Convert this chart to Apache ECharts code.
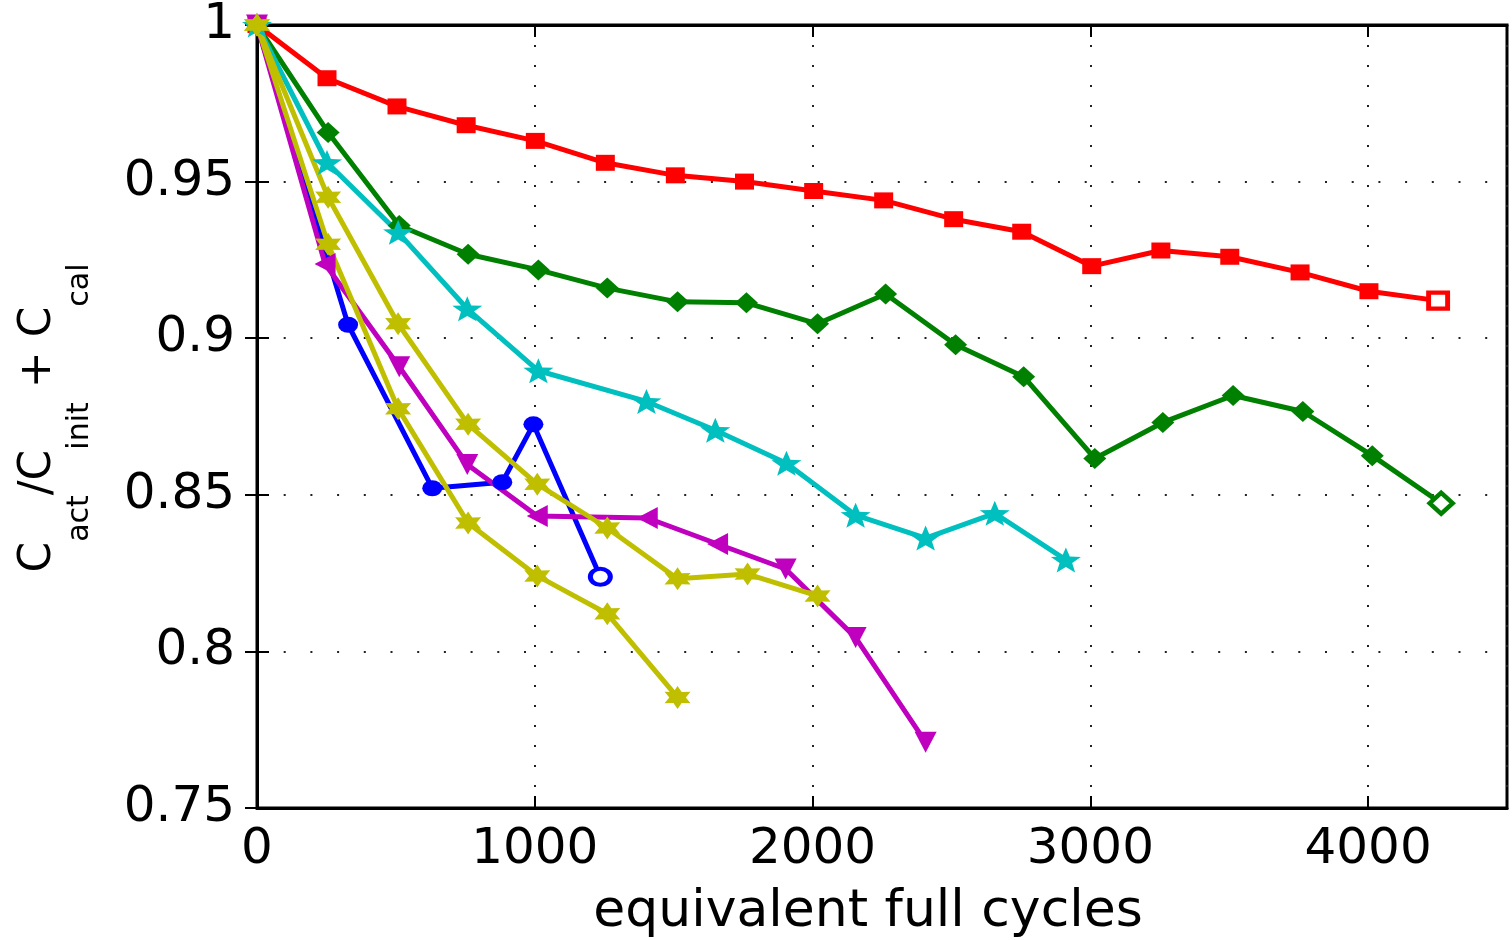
<!DOCTYPE html>
<html>
<head>
<meta charset="utf-8" />
<title>capacity fade</title>
<script src="https://cdn.jsdelivr.net/npm/echarts@6/dist/echarts.min.js"></script>
<style>
  html, body { margin: 0; padding: 0; background: #fff; }
  #main { width: 1512px; height: 940px; }
</style>
</head>
<body>
<div id="main"></div>
<script type="text/javascript">
// tick labels
var xTicks = [0, 1000, 2000, 3000, 4000];
var yTicks = [0.75, 0.8, 0.85, 0.9, 0.95, 1];

// red, squares
var redX = [0, 252, 504, 753, 1002, 1254, 1506, 1755, 2004, 2256, 2508, 2753, 3005, 3254, 3502, 3755, 4003, 4252];
var redY = [1, 0.983, 0.974, 0.968, 0.963, 0.956, 0.952, 0.950, 0.947, 0.944, 0.938, 0.934, 0.923, 0.928, 0.926, 0.921, 0.915, 0.912];
// green, diamonds
var greenX = [0, 256, 512, 760, 1013, 1261, 1514, 1762, 2018, 2263, 2515, 2760, 3016, 3261, 3514, 3765, 4015, 4263];
var greenY = [1, 0.9657, 0.9360, 0.9268, 0.9218, 0.9160, 0.9116, 0.9113, 0.9046, 0.9141, 0.8979, 0.8877, 0.8616, 0.8731, 0.8817, 0.8766, 0.8625, 0.8473];
// cyan, pentagrams
var cyanX = [0, 252, 508, 757, 1013, 1402, 1650, 1906, 2155, 2407, 2656, 2912];
var cyanY = [1, 0.9561, 0.9338, 0.9094, 0.8896, 0.8798, 0.8706, 0.8601, 0.8435, 0.8362, 0.8441, 0.8292];
// blue, circles
var blueX = [0, 328, 631, 883, 995, 1236];
var blueY = [1, 0.9043, 0.8521, 0.8540, 0.8725, 0.8238];
// magenta, triangles
var magX = [0, 245, 512, 757, 1009, 1405, 1658, 1903, 2155, 2407];
var magY = [1, 0.9237, 0.8909, 0.8597, 0.8432, 0.8426, 0.8343, 0.8263, 0.8044, 0.7710];
// yellow, hexagrams (two runs)
var yelAX = [0, 256, 508, 760, 1009, 1261, 1514, 1766, 2018];
var yelAY = [1, 0.945, 0.9046, 0.8725, 0.8534, 0.8394, 0.8232, 0.8247, 0.8177];
var yelBX = [0, 256, 508, 760, 1009, 1261, 1514];
var yelBY = [1, 0.930, 0.8775, 0.8410, 0.8241, 0.8120, 0.7853];

var FONT = '"DejaVu Sans", sans-serif';

function starPath(n, inner) {
    var d = '';
    for (var i = 0; i < 2 * n; i++) {
        var r = i % 2 ? inner : 1;
        var a = -Math.PI / 2 + i * Math.PI / n;
        d += (i ? 'L' : 'M') + (50 + 50 * r * Math.cos(a)).toFixed(2) + ' ' + (50 + 50 * r * Math.sin(a)).toFixed(2) + ' ';
    }
    return 'path://' + d + 'Z';
}
var PENTA = starPath(5, 0.42);
var HEXA = starPath(6, 0.55);

// triangle orientation per magenta point (left / down)
var magRot = [180, 90, 180, 180, 90, 90, 90, 180, 180, 180];

function pairs(xs, ys) {
    return xs.map(function (x, i) { return [x, ys[i]]; });
}

function mkSeries(name, xs, ys, color, symbol, size, hollowLast) {
    var data = pairs(xs, ys).map(function (p, i) {
        if (hollowLast && i === xs.length - 1) {
            return { value: p, itemStyle: { color: '#fff', borderColor: color, borderWidth: 4.5 } };
        }
        return p;
    });
    return {
        name: name,
        type: 'line',
        data: data,
        symbol: symbol,
        symbolSize: size,
        showAllSymbol: true,
        clip: false,
        lineStyle: { color: color, width: 5 },
        itemStyle: { color: color },
        emphasis: { disabled: true },
        animation: false
    };
}

var myChart = echarts.init(document.getElementById('main'));

var series = [
    mkSeries('blue', blueX, blueY, '#0000ff', 'circle', [20, 16], true),
    mkSeries('green', greenX, greenY, '#008000', 'diamond', [23, 21], true),
    mkSeries('red', redX, redY, '#ff0000', 'rect', [19, 16], true),
    mkSeries('cyan', cyanX, cyanY, '#00bfbf', PENTA, [30, 25], false),
    mkSeries('magenta', magX, magY, '#bf00bf', 'triangle', [22, 21], false),
    mkSeries('yellowA', yelAX, yelAY, '#bfbf00', HEXA, [26, 23], false),
    mkSeries('yellowB', yelBX, yelBY, '#bfbf00', HEXA, [26, 23], false)
];
series[4].symbolRotate = function (v, p) { return magRot[p.dataIndex]; };

option = {
    backgroundColor: '#fff',
    animation: false,
    grid: {
        left: 257,
        top: 22,
        right: 5,
        bottom: 132,
        show: true,
        borderColor: '#000',
        borderWidth: 3,
        backgroundColor: 'transparent'
    },
    xAxis: [{
        type: 'value',
        min: 0,
        max: 4500,
        interval: 1000,
        axisLine: { show: true, lineStyle: { color: '#000', width: 3 } },
        axisTick: { show: true, inside: true, length: 12, lineStyle: { color: '#000', width: 2 } },
        axisLabel: {
            color: '#000', fontSize: 50, fontFamily: FONT, margin: 17,
            formatter: function (v) { return xTicks.indexOf(v) >= 0 ? String(v) : ''; }
        },
        splitLine: {
            show: true,
            lineStyle: { color: '#222', width: 2, type: [2, 18] }
        }
    }, {
        type: 'value',
        position: 'top',
        min: 0,
        max: 4500,
        interval: 1000,
        axisLine: { show: true, lineStyle: { color: '#000', width: 3 } },
        axisTick: { show: true, inside: true, length: 12, lineStyle: { color: '#000', width: 2 } },
        axisLabel: { show: false },
        splitLine: { show: false }
    }],
    yAxis: [{
        type: 'value',
        min: 0.75,
        max: 1,
        interval: 0.05,
        axisLine: { show: true, lineStyle: { color: '#000', width: 3 } },
        axisTick: { show: true, inside: true, length: 12, lineStyle: { color: '#000', width: 2 } },
        axisLabel: {
            color: '#000', fontSize: 50, fontFamily: FONT, margin: 22,
            formatter: function (v) {
                var r = Math.round(v * 100) / 100;
                return yTicks.indexOf(r) >= 0 ? String(r) : '';
            }
        },
        splitLine: {
            show: true,
            lineStyle: { color: '#222', width: 2, type: [2, 24.7] }
        }
    }, {
        type: 'value',
        position: 'right',
        min: 0.75,
        max: 1,
        interval: 0.05,
        axisLine: { show: true, lineStyle: { color: '#000', width: 3 } },
        axisTick: { show: true, inside: true, length: 12, lineStyle: { color: '#000', width: 2 } },
        axisLabel: { show: false },
        splitLine: { show: false }
    }],
    graphic: [{
        type: 'text',
        x: 868,
        y: 912,
        style: {
            text: 'equivalent full cycles',
            align: 'center',
            verticalAlign: 'middle',
            fill: '#000',
            font: '52px ' + FONT
        }
    }, {
        type: 'text',
        x: 17,
        y: 418,
        rotation: Math.PI / 2,
        style: {
            text: '{m|C}{s|act}{m|/C}{s|init}{m| + C}{s|cal}',
            align: 'center',
            verticalAlign: 'top',
            fill: '#000',
            rich: {
                m: { fontSize: 44, fontFamily: FONT, lineHeight: 44, verticalAlign: 'top', fill: '#000' },
                s: { fontSize: 30, fontFamily: FONT, lineHeight: 78, verticalAlign: 'bottom', fill: '#000' }
            }
        }
    }],
    series: series
};
myChart.setOption(option);
</script>
</body>
</html>
